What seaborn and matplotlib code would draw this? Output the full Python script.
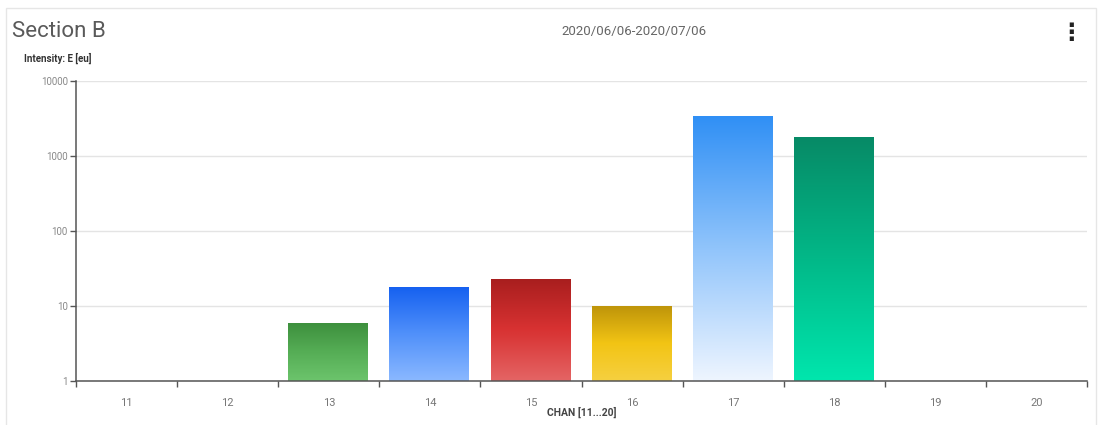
"""
Section B channel intensity chart (log scale bars with gradient fill)
"""

import numpy as np
import pandas as pd
import matplotlib
matplotlib.use("Agg")
import matplotlib.pyplot as plt
from matplotlib.colors import LinearSegmentedColormap
from matplotlib.patches import Rectangle
from matplotlib.ticker import FixedLocator, NullFormatter
import seaborn as sns

# data
channels = ["11", "12", "13", "14", "15", "16", "17", "18", "19", "20"]
intensity = [np.nan, np.nan, 6, 18, 23, 10, 3500, 1800, np.nan, np.nan]

# gradient colours (top -> bottom) per channel
bar_gradients = {
    "13": ["#3d8f3d", "#55ad55", "#6cc46c"],
    "14": ["#1560f0", "#5090fa", "#8ab8ff"],
    "15": ["#a81e1e", "#d83232", "#e46464"],
    "16": ["#be940a", "#f2c414", "#f6d040"],
    "17": ["#2f8ff5", "#90c4fb", "#eef5ff"],
    "18": ["#078a66", "#02b888", "#00e6ad"],
}

title = "Section B"
date_range = "2020/06/06-2020/07/06"
y_title = "Intensity: E [eu]"
x_title = "CHAN [11...20]"
y_ticks = [1, 10, 100, 1000, 10000]
y_min, y_max = 1, 10000


def main():
    sns.set_theme(style="white")
    plt.rcParams["font.family"] = ["Roboto", "DejaVu Sans"]

    df = pd.DataFrame({"chan": channels, "val": intensity})

    fig = plt.figure(figsize=(11.02, 4.25), dpi=100)
    fig.patch.set_facecolor("white")
    ax = fig.add_axes([0.069, 0.1035, 0.9174, 0.7059])

    sns.barplot(data=df, x="chan", y="val", order=channels, color="#cccccc",
                width=0.8, ax=ax, zorder=2)
    ax.set_yscale("log")
    ax.set_ylim(y_min, y_max)
    ax.set_xlim(-0.5, len(channels) - 0.5)

    # replace flat fill by vertical gradient images clipped to each bar
    span = np.log10(y_max) - np.log10(y_min)
    grad = np.linspace(0, 1, 256).reshape(-1, 1)
    xform = ax.get_xaxis_transform()
    for patch in ax.patches:
        h = patch.get_height()
        if not np.isfinite(h) or h <= 0:
            continue
        chan = channels[int(round(patch.get_x() + patch.get_width() / 2))]
        cols = bar_gradients.get(chan)
        if cols is None:
            continue
        patch.set_facecolor("none")
        patch.set_edgecolor("none")
        cmap = LinearSegmentedColormap.from_list(f"g{chan}", cols)
        top = (np.log10(h) - np.log10(y_min)) / span
        x0 = patch.get_x()
        ax.imshow(grad, cmap=cmap, aspect="auto", interpolation="bilinear",
                  origin="upper",
                  extent=[x0, x0 + patch.get_width(), 0, top],
                  transform=xform, zorder=2)
    ax.set_ylim(y_min, y_max)
    ax.set_xlim(-0.5, len(channels) - 0.5)

    # axes styling
    ax.yaxis.set_major_locator(FixedLocator(y_ticks))
    ax.yaxis.set_minor_locator(FixedLocator([]))
    ax.set_yticklabels([str(t) for t in y_ticks])
    ax.grid(axis="y", color="#e4e4e4", lw=1, zorder=0)
    ax.set_axisbelow(True)
    for side in ["top", "right"]:
        ax.spines[side].set_visible(False)
    for side in ["left", "bottom"]:
        ax.spines[side].set_color("#555555")
        ax.spines[side].set_linewidth(1.1)
    ax.tick_params(axis="y", which="major", left=True, length=4, width=1,
                   color="#555555", labelsize=7, labelcolor="#888888", pad=2)
    ax.tick_params(axis="x", which="major", bottom=False, labelsize=8,
                   labelcolor="#777777", pad=6)
    ax.xaxis.set_minor_locator(FixedLocator(np.arange(-0.5, len(channels), 1.0)))
    ax.xaxis.set_minor_formatter(NullFormatter())
    ax.tick_params(axis="x", which="minor", bottom=True, length=4, width=1,
                   color="#555555")
    ax.set_ylabel("")
    ax.set_xlabel(x_title, fontsize=7.5, fontweight="bold", color="#444444",
                  labelpad=-1)

    # card header
    fig.text(0.011, 0.925, title, fontsize=16, color="#5a5a5a", va="center")
    fig.text(0.575, 0.925, date_range, fontsize=9.5, color="#666666",
             ha="center", va="center")
    fig.text(0.972, 0.923, "\u22ee", fontsize=17, fontweight="bold",
             color="#222222", ha="center", va="center",
             family=["DejaVu Sans"])
    fig.text(0.022, 0.862, y_title, fontsize=7, fontweight="bold",
             color="#333333", va="center")

    fig.patches.append(Rectangle((0.005, -0.05), 0.990, 1.031,
                                 transform=fig.transFigure, fill=False,
                                 edgecolor="#e6e6e6", lw=1))

    fig.savefig("out.png", dpi=100)
    plt.close(fig)


if __name__ == "__main__":
    main()
